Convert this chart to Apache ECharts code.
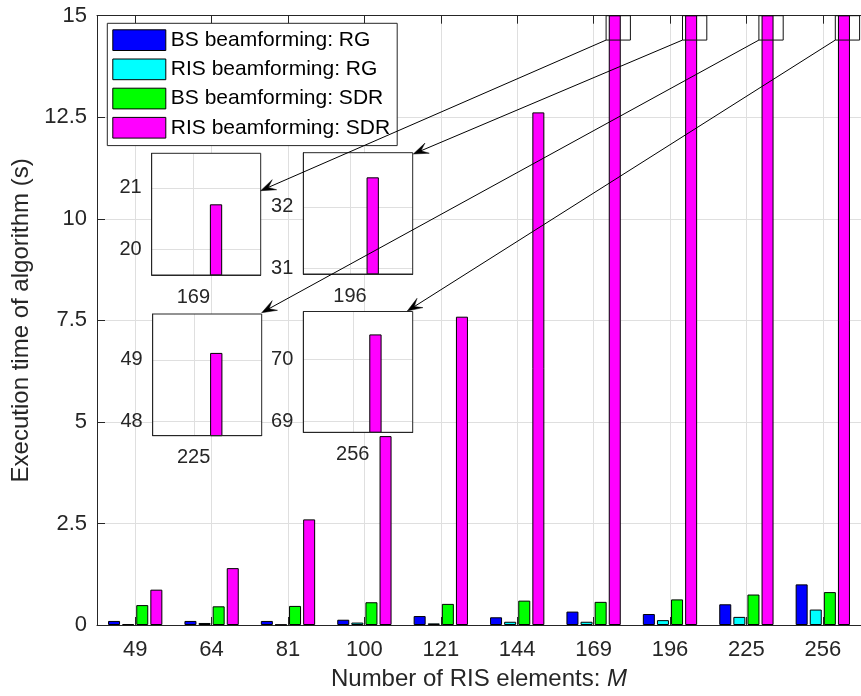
<!DOCTYPE html>
<html><head><meta charset="utf-8">
<script src="https://cdn.jsdelivr.net/npm/echarts@6/dist/echarts.min.js"></script>
<style>html,body{margin:0;padding:0;background:#fff}#c{width:861px;height:696px}</style>
</head><body><div id="c"></div><script>
// ---------- data ----------
const categories = ['49','64','81','100','121','144','169','196','225','256'];
const seriesNames = ['BS beamforming: RG','RIS beamforming: RG','BS beamforming: SDR','RIS beamforming: SDR'];
const bsRG   = [0.10, 0.10, 0.10, 0.13, 0.22, 0.19, 0.33, 0.27, 0.51, 1.00];
const risRG  = [0.02, 0.05, 0.01, 0.06, 0.04, 0.08, 0.08, 0.12, 0.20, 0.38];
const bsSDR  = [0.49, 0.46, 0.47, 0.56, 0.52, 0.60, 0.57, 0.63, 0.75, 0.81];
const risSDR = [0.87, 1.40, 2.60, 4.65, 7.59, 12.62, 20.73, 32.48, 49.11, 70.40];
const yMin = 0, yMax = 15, yStep = 2.5;
const insetCategories = ['169','196','225','256'];
const insetYRanges = [[19.58,21.56],[30.91,32.88],[47.77,49.74],[68.82,70.77]];
const insetYTicks  = [[20,21],[31,32],[48,49],[69,70]];
const zoomBoxY = [14.4, 15];

// ---------- style / layout ----------
const colors = ['#0000ff','#00ffff','#00ff00','#ff00ff'];
const FONT = 'Liberation Sans, Arial, sans-serif';
const AX = '#262626';
const GRID = '#dfdfdf';
const mainGrid = {left:97, top:15.7, width:773, height:611.6};
const insetRects = [[151.7,153.3,109,121.7],[303.3,152.7,109.4,121.3],[152.7,314,109,121.7],[303.3,311.5,109.4,120.8]];
const insetCatFrac = [0.382, 0.427, 0.375, 0.452];
const arrowOffsets = [[0,37.4],[0.6,1.3],[0,-1.3],[-5.4,-0.5]];
const allSeries = [bsRG, risRG, bsSDR, risSDR];

const grids = [Object.assign({}, mainGrid)];
const xAxes = [
  {type:'category', gridIndex:0, data:categories, boundaryGap:true, position:'bottom',
   axisLine:{show:true, onZero:false, lineStyle:{color:AX, width:1}},
   axisTick:{show:true, inside:true, alignWithLabel:true, length:8, lineStyle:{color:AX}},
   axisLabel:{fontSize:22, color:AX, fontFamily:FONT, margin:14},
   splitLine:{show:false},
   name:'Number of RIS elements: {i|M}', nameLocation:'middle', nameGap:42,
   nameTextStyle:{fontSize:24, color:AX, fontFamily:FONT, rich:{i:{fontSize:24, color:AX, fontFamily:FONT, fontStyle:'italic'}}}},
  {type:'category', gridIndex:0, data:categories, boundaryGap:true, position:'top',
   axisLine:{show:true, onZero:false, lineStyle:{color:AX, width:1}},
   axisTick:{show:true, inside:true, alignWithLabel:true, length:8, lineStyle:{color:AX}},
   axisLabel:{show:false}, splitLine:{show:false}},
  {type:'category', gridIndex:0, data:Array.from({length:categories.length*2+1}, (_, i) => String(i)), boundaryGap:false, position:'bottom',
   axisLine:{show:false}, axisTick:{show:false}, axisLabel:{show:false},
   splitLine:{show:true, interval:(idx) => idx % 2 === 1, lineStyle:{color:GRID, width:1}}}
];
const yAxes = [
  {type:'value', gridIndex:0, min:yMin, max:yMax, interval:yStep,
   axisLine:{show:true, lineStyle:{color:AX, width:1}},
   axisTick:{show:true, inside:true, length:8, lineStyle:{color:AX}},
   axisLabel:{fontSize:22, color:AX, fontFamily:FONT, margin:10},
   splitLine:{show:true, lineStyle:{color:GRID, width:1}},
   name:'Execution time of algorithm (s)', nameLocation:'middle', nameGap:61,
   nameTextStyle:{fontSize:24, color:AX, fontFamily:FONT}}
];
const series = [];
allSeries.forEach((arr, s) => {
  series.push({name:seriesNames[s], type:'bar', xAxisIndex:0, yAxisIndex:0, data:arr,
    barWidth:12, barGap:'17.5%', clip:true,
    itemStyle:{color:colors[s], borderColor:'#000', borderWidth:1}});
});

insetCategories.forEach((c, i) => {
  const g = i + 1;
  const r = insetRects[i];
  const k = categories.indexOf(c);
  grids.push({left:r[0], top:r[1], width:r[2], height:r[3], show:false});
  xAxes.push({type:'value', gridIndex:g, min:k - insetCatFrac[i], max:k - insetCatFrac[i] + 1, z:6,
    axisLine:{show:true, onZero:false, lineStyle:{color:AX, width:1}},
    axisTick:{show:false, customValues:[k]},
    axisLabel:{customValues:[k], formatter:(v) => categories[Math.round(v)], fontSize:20, color:AX, fontFamily:FONT, margin:12},
    splitLine:{show:false}});
  yAxes.push({type:'value', gridIndex:g, min:insetYRanges[i][0], max:insetYRanges[i][1], z:6,
    axisLine:{show:true, lineStyle:{color:AX, width:1}},
    axisTick:{show:false, customValues:insetYTicks[i]},
    axisLabel:{customValues:insetYTicks[i], fontSize:20, color:AX, fontFamily:FONT, margin:10},
    splitLine:{show:false}});
  allSeries.forEach((arr, s) => {
    series.push({name:seriesNames[s], type:'bar', xAxisIndex:g+2, yAxisIndex:g, z:5,
      data:[[k, arr[k]]], barWidth:12.3, barGap:'23%', clip:true,
      itemStyle:{color:colors[s], borderColor:'#000', borderWidth:1}});
  });
});

const option = {
  animation:false,
  backgroundColor:'#fff',
  textStyle:{fontFamily:FONT},
  grid:grids,
  xAxis:xAxes,
  yAxis:yAxes,
  legend:{data:seriesNames, orient:'vertical', left:107.3, top:23.3, padding:[6,7,7,5],
    itemWidth:53, itemHeight:20.7, itemGap:7.5, icon:'rect', selectedMode:false,
    backgroundColor:'#fff', borderColor:AX, borderWidth:1, borderRadius:0, z:10,
    itemStyle:{borderColor:'#000', borderWidth:1},
    textStyle:{fontSize:21, color:'#000', fontFamily:FONT, lineHeight:21}},
  series:series
};

const chart = echarts.init(document.getElementById('c'), null, {renderer:'canvas'});
chart.setOption(option);

const graphics = [];
// inset backgrounds, grid lines (through each inset's own axes) and frames
insetCategories.forEach((c, i) => {
  const g = i + 1;
  const r = insetRects[i];
  const k = categories.indexOf(c);
  graphics.push({type:'rect', z:3, silent:true, shape:{x:r[0], y:r[1], width:r[2], height:r[3]}, style:{fill:'#fff', stroke:null}});
  const gx = Math.round(chart.convertToPixel({xAxisIndex:g+2}, k)) + 0.5;
  graphics.push({type:'line', z:4, silent:true, shape:{x1:gx, y1:r[1], x2:gx, y2:r[1] + r[3]}, style:{stroke:GRID, lineWidth:1}});
  insetYTicks[i].forEach(v => {
    const gy = Math.round(chart.convertToPixel({yAxisIndex:g}, v)) + 0.5;
    graphics.push({type:'line', z:4, silent:true, shape:{x1:r[0], y1:gy, x2:r[0] + r[2], y2:gy}, style:{stroke:GRID, lineWidth:1}});
  });
  graphics.push({type:'rect', z:6, silent:true, shape:{x:r[0], y:r[1], width:r[2], height:r[3]}, style:{fill:'transparent', stroke:AX, lineWidth:1}});
});
// zoom boxes + arrows (annotations, positioned through the main axes)
insetCategories.forEach((c, i) => {
  const k = categories.indexOf(c);
  const cx = chart.convertToPixel({xAxisIndex:0}, k);
  const yTop = chart.convertToPixel({yAxisIndex:0}, zoomBoxY[1]);
  const yBot = chart.convertToPixel({yAxisIndex:0}, zoomBoxY[0]);
  const x0 = cx + 12.5, x1 = cx + 36.8;
  graphics.push({type:'rect', z:100, shape:{x:x0, y:yTop, width:x1 - x0, height:yBot - yTop},
    style:{fill:'transparent', stroke:'#111', lineWidth:1}});
  const r = insetRects[i], o = arrowOffsets[i];
  const sx = x0, sy = yBot;
  const ex = r[0] + r[2] + o[0], ey = r[1] + o[1];
  const dx = ex - sx, dy = ey - sy, len = Math.hypot(dx, dy);
  const ux = dx / len, uy = dy / len, nx = -uy, ny = ux;
  const L = 15, W = 11, N = 0.55;
  const bx = ex - ux * L, by = ey - uy * L;
  const mx = ex - ux * L * N, my = ey - uy * L * N;
  graphics.push({type:'line', z:100, shape:{x1:sx, y1:sy, x2:mx, y2:my}, style:{stroke:'#000', lineWidth:1}});
  graphics.push({type:'polygon', z:100, shape:{points:[[ex,ey],[bx + nx*W/2, by + ny*W/2],[mx,my],[bx - nx*W/2, by - ny*W/2]]},
    style:{fill:'#000', stroke:'#000', lineWidth:0.5}});
});
chart.setOption({graphic:graphics});
</script></body></html>
